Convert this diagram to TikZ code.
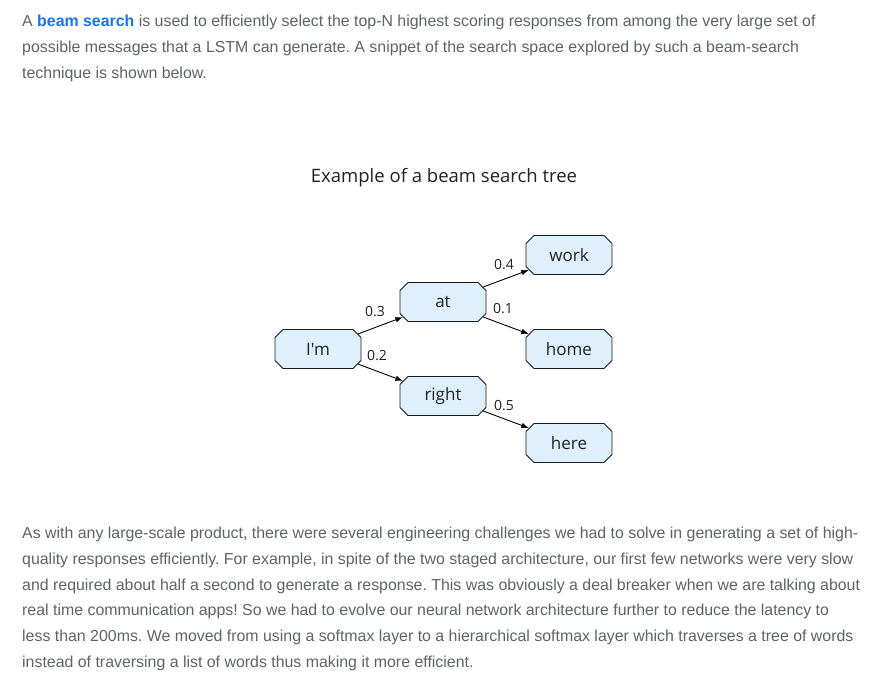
\documentclass[tikz,border=0pt]{standalone}
\usepackage{fontspec}
\setmainfont{Liberation Sans}
\newfontfamily\diafont{Open Sans}
\usetikzlibrary{shapes.misc,arrows.meta}
\definecolor{bodytext}{HTML}{5F6368}
\definecolor{linkblue}{HTML}{1A73E8}
\definecolor{boxfill}{HTML}{DDF0FB}
\definecolor{boxline}{HTML}{1A1A1A}
\definecolor{diatext}{HTML}{222222}
\frenchspacing
\begin{document}
\begin{tikzpicture}[x=1pt,y=-1pt,
  para/.style={anchor=base west,inner sep=0pt,
    font=\fontsize{15.9}{18}\selectfont,text=bodytext},
  title/.style={anchor=base,inner sep=0pt,
    font=\diafont\fontsize{18.5}{22}\selectfont,text=diatext},
  wordbox/.style={chamfered rectangle,chamfered rectangle angle=45,
    chamfered rectangle xsep=4pt,chamfered rectangle ysep=4pt,
    minimum width=86pt,minimum height=39pt,inner sep=0pt,
    draw=boxline,fill=boxfill,line width=0.9pt,
    font=\diafont\fontsize{17}{20}\selectfont,text=diatext},
  prob/.style={inner sep=0pt,font=\diafont\fontsize{14}{16}\selectfont,text=diatext},
  link/.style={draw=black,line width=0.9pt,-{Latex[length=7.5pt,width=5.5pt]}}]

% page area
\fill[white] (0,0) rectangle (887,686);
\useasboundingbox (0,0) rectangle (887,686);

% introductory paragraph
\node[para] (p1) at (22,26) {A \textcolor{linkblue}{\bfseries beam search} is used to efficiently select the top-N highest scoring responses from among the very large set of};
\node[para] (p2) at (22,52) {possible messages that a LSTM can generate. A snippet of the search space explored by such a beam-search};
\node[para] (p3) at (22,78) {technique is shown below.};

% caption of the tree
\node[title] (cap) at (444,182) {Example of a beam search tree};

% the search tree
\node[wordbox] (im)    at (318,349) {I'm};
\node[wordbox] (at)    at (443,302) {at};
\node[wordbox] (right) at (443,396) {right};
\node[wordbox] (work)  at (569,255) {work};
\node[wordbox] (home)  at (569,349) {home};
\node[wordbox] (here)  at (569,443) {here};

\draw[link] (im) -- (at);
\draw[link] (im) -- (right);
\draw[link] (at) -- (work);
\draw[link] (at) -- (home);
\draw[link] (right) -- (here);

% transition scores
\node[prob] (s1) at (375,312) {0.3};
\node[prob] (s2) at (377,356) {0.2};
\node[prob] (s3) at (504,265) {0.4};
\node[prob] (s4) at (503,309) {0.1};
\node[prob] (s5) at (504,406) {0.5};

% closing paragraph
\node[para] (q1) at (22,538) {As with any large-scale product, there were several engineering challenges we had to solve in generating a set of high-};
\node[para] (q2) at (22,564) {quality responses efficiently. For example, in spite of the two staged architecture, our first few networks were very slow};
\node[para] (q3) at (22,590) {and required about half a second to generate a response. This was obviously a deal breaker when we are talking about};
\node[para] (q4) at (22,615) {real time communication apps! So we had to evolve our neural network architecture further to reduce the latency to};
\node[para] (q5) at (22,641) {less than 200ms. We moved from using a softmax layer to a hierarchical softmax layer which traverses a tree of words};
\node[para] (q6) at (22,667) {instead of traversing a list of words thus making it more efficient.};
\end{tikzpicture}
\end{document}
